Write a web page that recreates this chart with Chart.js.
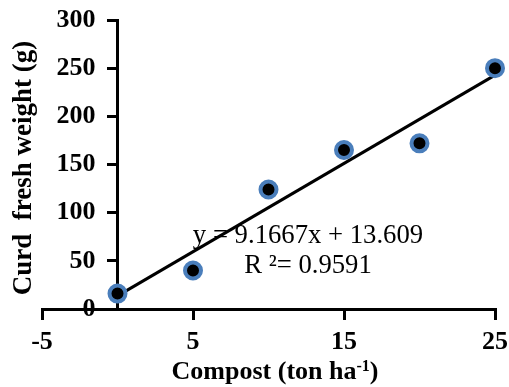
<!DOCTYPE html>
<html>
<head>
<meta charset="utf-8">
<script src="https://cdn.jsdelivr.net/npm/chart.js@4/dist/chart.umd.min.js"></script>
<style>
html,body{margin:0;padding:0;background:#fff;}
canvas{display:block;}
</style>
</head>
<body>
<canvas id="c" width="509" height="387"></canvas>
<script>
const compost = [0, 5, 10, 15, 20, 25];
const curdWeight = [16, 40, 124, 165, 172, 250];
const slope = 9.1667;
const intercept = 13.609;
const eqText = "y = 9.1667x + 13.609";
const r2Text = "R \u00b2= 0.9591";
const xTitle = "Compost (ton ha";
const xTitleSup = "-1";
const yTitle = "Curd  fresh weight (g)";

const FONT = "'Liberation Serif', 'Times New Roman', serif";
const Y_TICK_LEN = 9;
const Y_TICK_PAD = 13;

function noLabelPadding(scale) {
  scale.paddingTop = 0; scale.paddingBottom = 0;
  scale.paddingLeft = 0; scale.paddingRight = 0;
}

const textPlugin = {
  id: 'texts',
  afterLayout(chart) {
    const sc = chart.scales.y;
    const items = sc.getLabelItems(chart.chartArea);
    items.forEach(it => { it.options.translation[0] -= (Y_TICK_LEN + Y_TICK_PAD); });
  },
  afterDraw(chart) {
    const ctx = chart.ctx;
    ctx.save();
    ctx.fillStyle = '#000';
    ctx.font = "26.7px " + FONT;
    ctx.textAlign = 'center';
    ctx.textBaseline = 'alphabetic';
    ctx.fillText(eqText, 308, 243);
    ctx.fillText(r2Text, 308, 273);
    ctx.save();
    ctx.translate(31, 168);
    ctx.rotate(-Math.PI / 2);
    ctx.font = "bold 27px " + FONT;
    ctx.textAlign = 'center';
    ctx.fillText(yTitle, 0, 0);
    ctx.restore();
    ctx.font = "bold 26px " + FONT;
    const w1 = ctx.measureText(xTitle).width;
    ctx.font = "bold 16px " + FONT;
    const w2 = ctx.measureText(xTitleSup).width;
    ctx.font = "bold 26px " + FONT;
    const w3 = ctx.measureText(")").width;
    const total = w1 + w2 + w3;
    let x0 = 275 - total / 2;
    ctx.textAlign = 'left';
    ctx.fillText(xTitle, x0, 379);
    ctx.font = "bold 16px " + FONT;
    ctx.fillText(xTitleSup, x0 + w1, 371);
    ctx.font = "bold 26px " + FONT;
    ctx.fillText(")", x0 + w1 + w2, 379);
    ctx.restore();
  }
};

const points = compost.map((x, i) => ({x: x, y: curdWeight[i]}));
const xMin = compost[0], xMax = compost[compost.length - 1];
const trend = [
  {x: xMin, y: intercept + slope * xMin},
  {x: xMax, y: intercept + slope * xMax}
];

new Chart(document.getElementById('c'), {
  type: 'scatter',
  data: {
    datasets: [
      {
        type: 'scatter',
        data: points,
        backgroundColor: '#000',
        borderColor: '#4a7ebb',
        borderWidth: 4,
        pointRadius: 8,
        pointHoverRadius: 8,
        clip: false
      },
      {
        type: 'line',
        data: trend,
        borderColor: '#000',
        borderWidth: 3,
        pointRadius: 0,
        fill: false,
        clip: false
      }
    ]
  },
  options: {
    responsive: false,
    animation: false,
    events: [],
    layout: {padding: {left: 42, right: 14, top: 20, bottom: 78}},
    plugins: {legend: {display: false}, tooltip: {enabled: false}},
    scales: {
      x: {
        type: 'linear',
        position: {y: 0},
        min: -5, max: 25,
        afterFit: noLabelPadding,
        ticks: {stepSize: 10, color: '#000', font: {family: FONT, size: 26, weight: 'bold'}, padding: 9, maxRotation: 0},
        grid: {drawOnChartArea: false, drawTicks: true, tickLength: 9, color: '#000', lineWidth: 3},
        border: {display: true, color: '#000', width: 3}
      },
      y: {
        type: 'linear',
        position: {x: 0},
        min: 0, max: 300,
        afterFit: noLabelPadding,
        ticks: {stepSize: 50, color: '#000', font: {family: FONT, size: 26, weight: 'bold'}, padding: Y_TICK_PAD},
        grid: {drawOnChartArea: false, drawTicks: true, tickLength: Y_TICK_LEN, color: '#000', lineWidth: 3},
        border: {display: true, color: '#000', width: 3}
      }
    }
  },
  plugins: [textPlugin]
});
</script>
</body>
</html>
